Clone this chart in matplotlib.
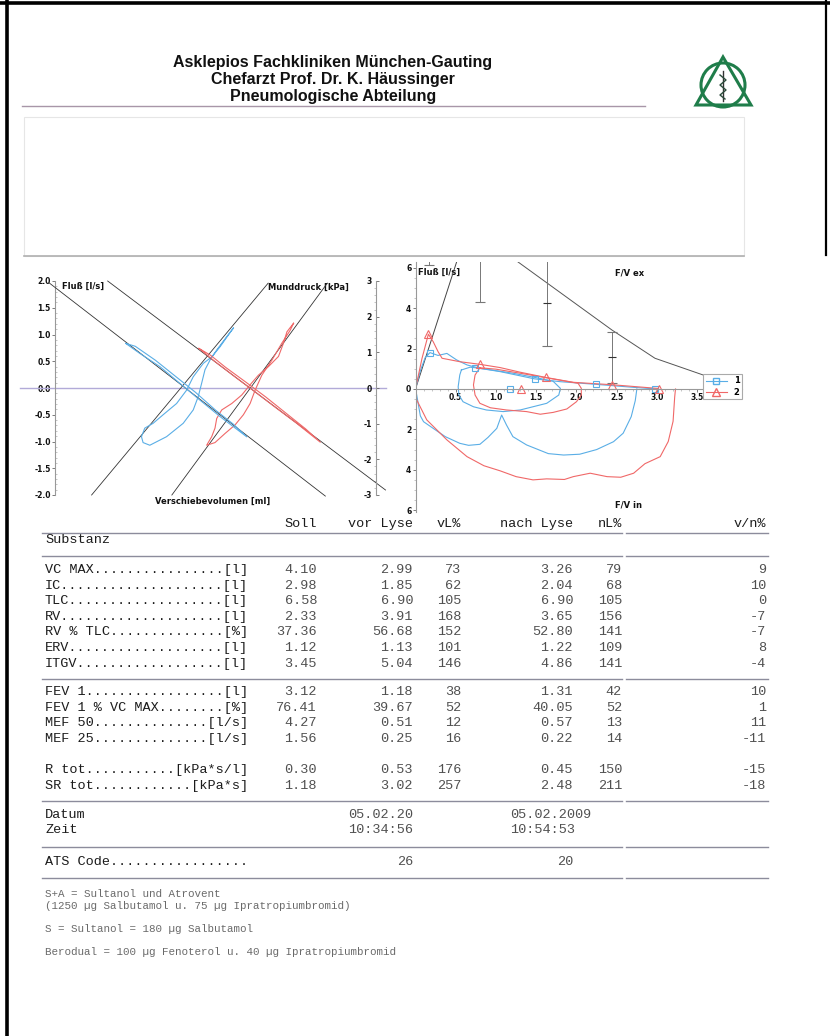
import matplotlib
matplotlib.use("Agg")
import matplotlib.pyplot as plt
from matplotlib.lines import Line2D
from matplotlib.patches import Circle, Polygon, Rectangle
from matplotlib.ticker import FixedLocator, MultipleLocator, FuncFormatter

plt.rcParams["axes.unicode_minus"] = False

W, H = 830, 1036

# ---------------- left plot: body box loops (volume in ml) ----------------
# resistance loops, flow [l/s] vs Verschiebevolumen [ml]
res_vol_1 = [17.8, 11.2, 1.2, -5.5, -10.5, -13.8, -17.2, -22.2, -32.2, -48.8, -65.5, -72.2,
             -73.8, -70.5, -62.2, -52.2, -38.8, -28.8, -22.2, -12.2, -3.8, 4.5, 12.8, 17.8]
res_flow_1 = [1.12, 0.96, 0.71, 0.52, 0.34, 0.09, -0.16, -0.41, -0.66, -0.91, -1.07, -1.02,
              -0.91, -0.75, -0.66, -0.50, -0.29, -0.04, 0.21, 0.46, 0.58, 0.77, 0.99, 1.12]
res_vol_2 = [77.8, 71.2, 67.8, 62.8, 52.8, 42.8, 34.5, 26.2, 16.2, 6.2, 1.2, -0.5, -3.8, -8.8,
             -0.5, 9.5, 19.5, 27.8, 34.5, 39.5, 46.2, 56.2, 66.2, 74.5, 77.8]
res_flow_2 = [1.21, 1.05, 0.84, 0.59, 0.40, 0.24, 0.06, -0.13, -0.29, -0.41, -0.57, -0.75, -0.91, -1.07,
              -1.02, -0.85, -0.69, -0.50, -0.29, -0.04, 0.24, 0.52, 0.84, 1.08, 1.21]
# ITGV loops, Munddruck [kPa] vs Verschiebevolumen [ml]
itgv_vol_1 = [-89.5, -75.5, -55.5, -35.5, -15.5, 4.5, 31.2, 18, 0, -20, -40, -60, -80, -89.5]
itgv_p_1 = [1.25, 0.97, 0.60, 0.13, -0.34, -0.80, -1.37, -1.02, -0.62, -0.12, 0.33, 0.78, 1.17, 1.25]
itgv_vol_2 = [-16.5, 0, 20, 40, 60, 80, 104.5, 90, 70, 50, 30, 10, -5, -16.5]
itgv_p_2 = [1.11, 0.73, 0.30, -0.12, -0.55, -0.97, -1.52, -1.15, -0.70, -0.25, 0.17, 0.58, 0.92, 1.11]
# fitted lines (end points)
res_line_vol = [[-123.5, 52.5], [-43.5, 111.5]]
res_line_flow = [[-2.0, 1.96], [-2.0, 1.96]]
itgv_line_vol = [[-165.5, 109.5], [-107.5, 169.5]]
itgv_line_p = [[2.94, -3.03], [3.0, -2.86]]

# ---------------- right plot: flow / volume ----------------
ex_vol_1 = [0, 0.06, 0.12, 0.18, 0.28, 0.39, 0.51, 0.64, 0.80, 1.05, 1.48, 1.80, 2.24, 2.71, 2.99]
ex_flow_1 = [0, 0.9, 1.55, 1.80, 1.66, 1.76, 1.44, 1.19, 1.02, 0.86, 0.50, 0.36, 0.23, 0.08, 0.0]
tid_vol_1 = [0.57, 0.68, 0.88, 1.21, 1.51, 1.71, 1.80, 1.78, 1.63, 1.46, 1.30, 1.09, 0.88, 0.72,
             0.59, 0.54, 0.53, 0.55, 0.57]
tid_flow_1 = [0.94, 1.08, 0.98, 0.78, 0.55, 0.38, 0.03, -0.30, -0.71, -0.88, -1.04, -1.12, -1.04,
              -0.88, -0.63, -0.30, 0.11, 0.69, 0.94]
in_vol_1 = [0, 0.015, 0.06, 0.10, 0.22, 0.37, 0.55, 0.66, 0.80, 0.90, 1.01, 1.07, 1.13, 1.21, 1.38,
            1.65, 1.84, 2.04, 2.25, 2.46, 2.58, 2.68, 2.73, 2.75]
in_flow_1 = [0, -0.3, -1.33, -1.62, -1.95, -2.36, -2.69, -2.79, -2.74, -2.40, -1.95, -1.29, -1.78,
             -2.36, -2.77, -3.20, -3.27, -3.23, -3.0, -2.61, -2.19, -1.37, -0.58, 0.0]
ex_vol_2 = [0, 0.08, 0.16, 0.22, 0.28, 0.33, 0.55, 0.80, 1.05, 1.30, 1.62, 1.96, 2.44, 3.0, 3.02]
ex_flow_2 = [0, 1.5, 2.71, 2.34, 1.85, 1.52, 1.35, 1.22, 1.06, 0.83, 0.57, 0.33, 0.21, 0.03, 0.0]
tid_vol_2 = [0.80, 0.74, 0.72, 0.74, 0.80, 0.93, 1.13, 1.38, 1.55, 1.71, 1.88, 2.00, 2.06, 2.06,
             2.02, 1.70, 1.30, 1.00, 0.80]
tid_flow_2 = [1.05, 0.69, 0.20, -0.30, -0.71, -0.93, -1.04, -1.12, -1.25, -1.16, -0.99, -0.63, -0.30,
              0.03, 0.28, 0.50, 0.78, 0.98, 1.05]
in_vol_2 = [0, 0.015, 0.14, 0.39, 0.64, 0.85, 1.05, 1.25, 1.46, 1.63, 1.85, 1.96, 2.17, 2.38, 2.55,
            2.71, 2.85, 3.04, 3.14, 3.20, 3.22, 3.23]
in_flow_2 = [0, -0.54, -1.53, -2.52, -3.35, -3.80, -4.05, -4.34, -4.50, -4.45, -4.48, -4.34, -4.17,
             -4.34, -4.37, -4.17, -3.70, -3.35, -2.60, -1.60, -0.40, 0.0]
mark_vol_1 = [0.18, 0.74, 1.48, 2.24, 2.97, 1.18]
mark_flow_1 = [1.80, 1.02, 0.48, 0.23, 0.02, 0.0]
mark_vol_2 = [0.16, 0.80, 1.62, 2.44, 3.02, 1.31]
mark_flow_2 = [2.71, 1.22, 0.57, 0.22, 0.02, 0.0]
# predicted values
pef_line_vol = [0, 0.52]
pef_line_flow = [0, 6.4]
soll_vol = [1.20, 2.44, 2.975, 3.575, 3.95]
soll_flow = [6.5, 2.92, 1.52, 0.69, 0.32]
bar_vol = [0.17, 0.80, 1.63, 2.44]
bar_mean = [8.2, 7.1, 4.27, 1.56]
bar_err = [2.06, 2.78, 2.13, 1.27]

# ---------------- table ----------------
col_heads = ["Soll", "vor Lyse", "vL%", "nach Lyse", "nL%", "v/n%"]
grp1_names = ["VC MAX", "IC", "TLC", "RV", "RV % TLC", "ERV", "ITGV"]
grp1_units = ["[l]", "[l]", "[l]", "[l]", "[%]", "[l]", "[l]"]
grp1_soll = [4.10, 2.98, 6.58, 2.33, 37.36, 1.12, 3.45]
grp1_vor = [2.99, 1.85, 6.90, 3.91, 56.68, 1.13, 5.04]
grp1_vl = [73, 62, 105, 168, 152, 101, 146]
grp1_nach = [3.26, 2.04, 6.90, 3.65, 52.80, 1.22, 4.86]
grp1_nl = [79, 68, 105, 156, 141, 109, 141]
grp1_vn = [9, 10, 0, -7, -7, 8, -4]
grp2_names = ["FEV 1", "FEV 1 % VC MAX", "MEF 50", "MEF 25"]
grp2_units = ["[l]", "[%]", "[l/s]", "[l/s]"]
grp2_soll = [3.12, 76.41, 4.27, 1.56]
grp2_vor = [1.18, 39.67, 0.51, 0.25]
grp2_vl = [38, 52, 12, 16]
grp2_nach = [1.31, 40.05, 0.57, 0.22]
grp2_nl = [42, 52, 13, 14]
grp2_vn = [10, 1, 11, -11]
grp3_names = ["R tot", "SR tot"]
grp3_units = ["[kPa*s/l]", "[kPa*s]"]
grp3_soll = [0.30, 1.18]
grp3_vor = [0.53, 3.02]
grp3_vl = [176, 257]
grp3_nach = [0.45, 2.48]
grp3_nl = [150, 211]
grp3_vn = [-15, -18]
datum = ["05.02.20", "05.02.2009"]
zeit = ["10:34:56", "10:54:53"]
ats_code = [26, 20]
footnotes = ["S+A = Sultanol und Atrovent",
             "(1250 µg Salbutamol u. 75 µg Ipratropiumbromid)",
             "S = Sultanol = 180 µg Salbutamol",
             "Berodual = 100 µg Fenoterol u. 40 µg Ipratropiumbromid"]

BLUE = "#5aaee6"
RED = "#f06868"
GREEN = "#1f7d4a"
MONO = "Liberation Mono"

fig = plt.figure(figsize=(W / 100, H / 100), dpi=100)
page = fig.add_axes([0, 0, 1, 1])
page.set_xlim(0, W)
page.set_ylim(H, 0)
page.axis("off")


def box(x0, y0, x1, y1):
    return [x0 / W, 1 - y1 / H, (x1 - x0) / W, (y1 - y0) / H]


# scan edges
page.plot([7, 7], [0, H], color="black", lw=2.6)
page.plot([0, W], [3, 3], color="black", lw=2.6)
page.plot([826, 826], [0, 255], color="black", lw=1.6)

# letter head
head = ["Asklepios Fachkliniken München-Gauting",
        "Chefarzt Prof. Dr. K. Häussinger",
        "Pneumologische Abteilung"]
for i, line in enumerate(head):
    page.text(333, 62 + i * 17.5, line, ha="center", va="center", fontsize=11.5,
              fontweight="bold", family="Liberation Sans", color="#111")
page.plot([22, 645], [106, 106], color="#a896a8", lw=1.0)

# logo
page.add_patch(Circle((723, 85), 22, fill=False, ec=GREEN, lw=2.2))
page.add_patch(Polygon([(723, 57), (696, 105), (751, 105)], closed=True, fill=False,
                       ec=GREEN, lw=2.2, joinstyle="miter"))
page.plot([723, 723], [71, 101], color="#333", lw=1.0)
page.plot([720, 726, 720, 726, 720, 725], [75, 80, 85, 90, 95, 99], color="#2a4a3a", lw=1.0)

# empty comment box
page.add_patch(Rectangle((24, 117), 720, 139, fill=False, ec="#e6e6e6", lw=0.8))
page.plot([24, 744], [256, 256], color="#b0b0b0", lw=1.2)

tick_font = dict(fontsize=5.5, fontweight="bold", color="#111")
lab_font = dict(fontsize=6, fontweight="bold", color="#111", va="center")

# ---------------- left plot ----------------
ax = fig.add_axes(box(55, 281, 376, 495))
ax.set_facecolor("none")
ax.set_xlim(-160, 160)
ax.set_ylim(-2, 2)
ax2 = ax.twinx()
ax2.set_ylim(-3, 3)
for a in (ax, ax2):
    for s in a.spines.values():
        s.set_visible(False)
ax.spines["left"].set_visible(True)
ax.spines["left"].set_color("#999")
ax2.spines["right"].set_visible(True)
ax2.spines["right"].set_color("#999")
ax.set_xticks([])
ax.yaxis.set_major_locator(MultipleLocator(0.5))
ax.yaxis.set_minor_locator(MultipleLocator(0.1))
ax.yaxis.set_major_formatter(FuncFormatter(lambda v, p: f"{v:.1f}"))
ax.tick_params(axis="y", which="major", length=2, width=0.6, color="#666", pad=1)
ax.tick_params(axis="y", which="minor", length=1.5, width=0.4, color="#999", direction="in")
ax2.yaxis.set_major_locator(MultipleLocator(1))
ax2.yaxis.set_minor_locator(MultipleLocator(0.2))
ax2.yaxis.set_major_formatter(FuncFormatter(lambda v, p: f"{v:g}"))
ax2.tick_params(axis="y", which="major", length=2, width=0.6, color="#666", pad=-5)
ax2.tick_params(axis="y", which="minor", length=1.5, width=0.4, color="#999", direction="in")
for t in ax.get_yticklabels():
    t.set(**tick_font)
for t in ax2.get_yticklabels():
    t.set(**tick_font)
    t.set_horizontalalignment("right")

ax.axhline(0, xmin=-0.11, xmax=1.03, color="#b2aad8", lw=1.0, clip_on=False)
for xs, ys in zip(res_line_vol, res_line_flow):
    ax.plot(xs, ys, color="#333", lw=0.6, clip_on=False)
for xs, ys in zip(itgv_line_vol, itgv_line_p):
    ax2.plot(xs, ys, color="#333", lw=0.6, clip_on=False)
ax.plot(res_vol_1, res_flow_1, color=BLUE, lw=0.8)
ax.plot(res_vol_2, res_flow_2, color=RED, lw=0.8)
ax2.plot(itgv_vol_1, itgv_p_1, color=BLUE, lw=0.8)
ax2.plot(itgv_vol_2, itgv_p_2, color=RED, lw=0.8)

page.text(62, 286, "Fluß [l/s]", **lab_font)
page.text(268, 287, "Munddruck [kPa]", **lab_font)
page.text(155, 501, "Verschiebevolumen [ml]", **lab_font)

# ---------------- right plot ----------------
bx = fig.add_axes(box(415.5, 261.7, 741.5, 512.2))
bx.set_facecolor("none")
bx.set_xlim(0, 4.05)
bx.set_ylim(-6.1, 6.3)
for k in ("top", "right"):
    bx.spines[k].set_visible(False)
bx.spines["left"].set_color("#999")
bx.spines["bottom"].set_position(("data", 0))
bx.spines["bottom"].set_color("#999")
bx.xaxis.set_major_locator(FixedLocator([0.5, 1.0, 1.5, 2.0, 2.5, 3.0, 3.5]))
bx.xaxis.set_minor_locator(MultipleLocator(0.1))
bx.xaxis.set_major_formatter(FuncFormatter(lambda v, p: f"{v:.1f}"))
bx.yaxis.set_major_locator(FixedLocator([-6, -4, -2, 0, 2, 4, 6]))
bx.yaxis.set_minor_locator(MultipleLocator(0.5))
bx.yaxis.set_major_formatter(FuncFormatter(lambda v, p: f"{abs(v):g}"))
bx.tick_params(which="major", length=2, width=0.6, color="#666", pad=1)
bx.tick_params(which="minor", length=1.2, width=0.4, color="#999")
for t in bx.get_xticklabels() + bx.get_yticklabels():
    t.set(**tick_font)

bx.plot(pef_line_vol, pef_line_flow, color="#444", lw=0.7)
bx.plot(soll_vol, soll_flow, color="#555", lw=0.7)
bx.errorbar(bar_vol, bar_mean, yerr=bar_err, fmt="_", color="#333", ecolor="#777",
            ms=6, mew=0.8, capsize=3.5, elinewidth=0.7, capthick=0.7)
bx.plot(ex_vol_1, ex_flow_1, color=BLUE, lw=0.8)
bx.plot(tid_vol_1, tid_flow_1, color=BLUE, lw=0.8)
bx.plot(in_vol_1, in_flow_1, color=BLUE, lw=0.8)
bx.plot(ex_vol_2, ex_flow_2, color=RED, lw=0.8)
bx.plot(tid_vol_2, tid_flow_2, color=RED, lw=0.8)
bx.plot(in_vol_2, in_flow_2, color=RED, lw=0.8)
bx.plot(mark_vol_1, mark_flow_1, ls="none", marker="s", ms=5, mfc="none", mec=BLUE, mew=0.8)
bx.plot(mark_vol_2, mark_flow_2, ls="none", marker="^", ms=5.5, mfc="none", mec=RED, mew=0.8)

handles = [Line2D([], [], color=BLUE, lw=0.8, marker="s", ms=5, mfc="none", mec=BLUE),
           Line2D([], [], color=RED, lw=0.8, marker="^", ms=5.5, mfc="none", mec=RED)]
leg = bx.legend(handles, ["1", "2"], loc="upper left", bbox_to_anchor=(0.882, 0.552),
                fancybox=False, framealpha=1, edgecolor="#aaa", handlelength=2.6,
                borderpad=0.3, labelspacing=0.25, handletextpad=0.8, borderaxespad=0,
                prop=dict(size=6, weight="bold"))
leg.get_frame().set_linewidth(0.8)

page.text(418, 272, "Fluß [l/s]", **lab_font)
page.text(615, 273, "F/V ex", **lab_font)
page.text(615, 505, "F/V in", **lab_font)

# ---------------- table ----------------
COLS = [317, 413, 461, 573, 622, 766]
FS = 9.7
label_kw = dict(family=MONO, fontsize=FS, color="#1c1c1c", va="center")
num_kw = dict(family=MONO, fontsize=FS, color="#505050", va="center", ha="right")


def rule(y):
    page.plot([42, 622], [y, y], color="#8c8c9c", lw=1.0)
    page.plot([626, 768], [y, y], color="#8c8c9c", lw=1.0)


def label(name, unit):
    return name + "." * (25 - len(name) - len(unit)) + unit


def rows(y0, names, units, soll, vor, vl, nach, nl, vn):
    for i in range(len(names)):
        y = y0 + i * 15.6
        page.text(45, y, label(names[i], units[i]), **label_kw)
        vals = [f"{soll[i]:.2f}", f"{vor[i]:.2f}", f"{vl[i]}", f"{nach[i]:.2f}",
                f"{nl[i]}", f"{vn[i]}"]
        for x, v in zip(COLS, vals):
            page.text(x, y, v, **num_kw)


for x, h in zip(COLS, col_heads):
    page.text(x, 524, h, ha="right", va="center", family=MONO, fontsize=FS, color="#1c1c1c")
rule(533)
page.text(45, 540, "Substanz", **label_kw)
rule(556)
rows(570, grp1_names, grp1_units, grp1_soll, grp1_vor, grp1_vl, grp1_nach, grp1_nl, grp1_vn)
rule(679)
rows(692, grp2_names, grp2_units, grp2_soll, grp2_vor, grp2_vl, grp2_nach, grp2_nl, grp2_vn)
rows(770, grp3_names, grp3_units, grp3_soll, grp3_vor, grp3_vl, grp3_nach, grp3_nl, grp3_vn)
rule(801)
page.text(45, 815, "Datum", **label_kw)
page.text(45, 830, "Zeit", **label_kw)
page.text(COLS[1], 815, datum[0], **num_kw)
page.text(COLS[1], 830, zeit[0], **num_kw)
page.text(510, 815, datum[1], **dict(num_kw, ha="left"))
page.text(510, 830, zeit[1], **dict(num_kw, ha="left"))
rule(847)
page.text(45, 862, "ATS Code" + "." * 17, **label_kw)
page.text(COLS[1], 862, f"{ats_code[0]}", **num_kw)
page.text(COLS[3], 862, f"{ats_code[1]}", **num_kw)
rule(878)

for y, line in zip([894, 906, 929, 952], footnotes):
    page.text(45, y, line, family=MONO, fontsize=7.8, color="#6a6a6a", va="center")

fig.savefig("out.png", dpi=100)
